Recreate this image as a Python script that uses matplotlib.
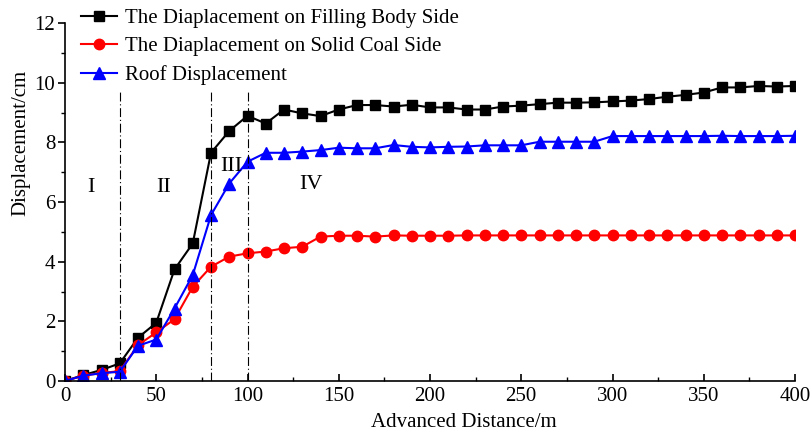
import matplotlib
matplotlib.use("Agg")
import matplotlib.pyplot as plt
from matplotlib.ticker import MultipleLocator

plt.rcParams['font.family'] = ['Liberation Serif', 'DejaVu Serif']
plt.rcParams['mathtext.fontset'] = 'stix'

distance = list(range(0, 401, 10))

filling_side = [0.0, 0.20, 0.37, 0.59, 1.45, 1.95, 3.74, 4.61, 7.65, 8.38, 8.89,
                8.63, 9.10, 8.97, 8.88, 9.10, 9.25, 9.25, 9.20, 9.26, 9.17,
                9.17, 9.10, 9.10, 9.20, 9.23, 9.28, 9.33, 9.33, 9.34, 9.37,
                9.40, 9.45, 9.53, 9.59, 9.67, 9.84, 9.84, 9.89, 9.87, 9.89]

coal_side = [0.0, 0.18, 0.27, 0.33, 1.20, 1.63, 2.07, 3.16, 3.83, 4.17, 4.28,
             4.34, 4.45, 4.50, 4.84, 4.87, 4.87, 4.84, 4.88, 4.87, 4.87,
             4.87, 4.88, 4.88, 4.88, 4.88, 4.88, 4.88, 4.88, 4.88, 4.88,
             4.88, 4.88, 4.88, 4.88, 4.88, 4.88, 4.88, 4.88, 4.88, 4.88]

roof = [0.0, 0.18, 0.26, 0.31, 1.18, 1.39, 2.43, 3.55, 5.56, 6.62, 7.35,
        7.65, 7.65, 7.69, 7.74, 7.82, 7.80, 7.80, 7.91, 7.85, 7.83,
        7.85, 7.86, 7.90, 7.90, 7.90, 8.02, 8.02, 8.02, 8.02, 8.21,
        8.21, 8.21, 8.21, 8.21, 8.21, 8.22, 8.21, 8.21, 8.21, 8.22]

labels = ["The Diaplacement on Filling Body Side",
          "The Diaplacement on Solid Coal Side",
          "Roof Displacement"]

stage_bounds = [30, 80, 100]
stage_names = ["I", "II", "III", "IV"]
stage_pos = [(14, 6.5), (54, 6.5), (91, 7.2), (135, 6.6)]

fig = plt.figure(figsize=(8.11, 4.32), dpi=100)
ax = fig.add_axes([65/811, 51/432, 730/811, 358/432])

l1, = ax.plot(distance, filling_side, color='black', marker='s', markersize=7, lw=1.5)
l2, = ax.plot(distance, coal_side, color='red', marker='o', markersize=7.5, lw=1.5)
l3, = ax.plot(distance, roof, color='blue', marker='^', markersize=8, lw=1.5)

for xb in stage_bounds:
    ax.plot([xb, xb], [0, 9.7], color='black', lw=0.8, ls=(0, (8, 2.5, 1, 2.5)))

for name, (px, py) in zip(stage_names, stage_pos):
    ax.text(px, py, name, fontsize=16, ha='center', va='center')

ax.set_xlim(0, 400)
ax.set_ylim(0, 12)
ax.xaxis.set_major_locator(MultipleLocator(50))
ax.xaxis.set_minor_locator(MultipleLocator(25))
ax.yaxis.set_major_locator(MultipleLocator(2))
ax.yaxis.set_minor_locator(MultipleLocator(1))

for s in ['top', 'right']:
    ax.spines[s].set_visible(False)
for s in ['left', 'bottom']:
    ax.spines[s].set_linewidth(1.2)

ax.tick_params(axis='x', which='major', direction='in', length=5, width=1.2, labelsize=15, pad=4)
ax.tick_params(axis='x', which='minor', direction='in', length=3, width=1.0)
ax.tick_params(axis='y', which='major', direction='out', length=5, width=1.2, labelsize=15, pad=2)
ax.tick_params(axis='y', which='minor', direction='out', length=3, width=1.0)

ax.set_xlabel("Advanced Distance/m", fontsize=15)
ax.set_ylabel("Displacement/cm", fontsize=15)
ax.xaxis.set_label_coords(0.547, -0.088)
ax.yaxis.set_label_coords(-0.047, 0.665)

fig.legend([l1, l2, l3], labels, loc='upper left', bbox_to_anchor=(71/811, 1.005),
           frameon=False, fontsize=15, handlelength=1.7, handletextpad=0.4,
           labelspacing=0.42, borderaxespad=0.1)

fig.savefig("out.png", dpi=100)
